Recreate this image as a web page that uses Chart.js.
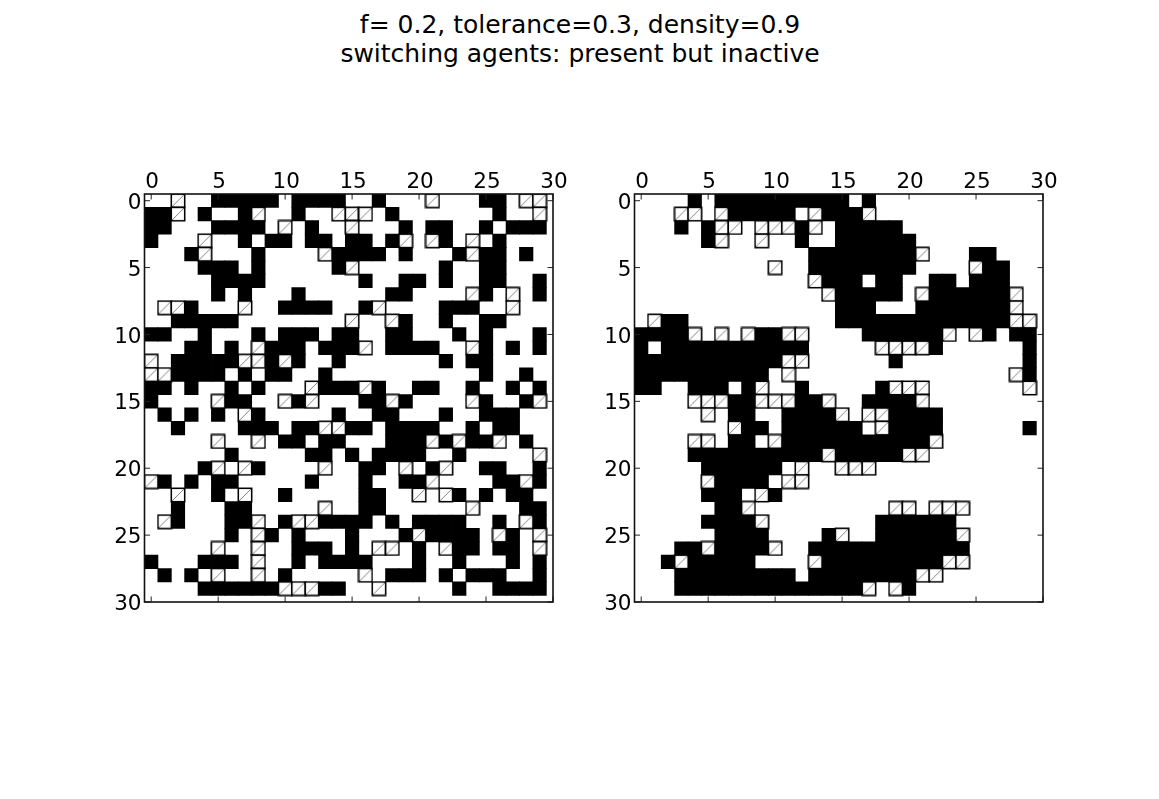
<!DOCTYPE html>
<html>
<head>
<meta charset="utf-8">
<script src="https://cdn.jsdelivr.net/npm/chart.js@4"></script>
<style>
html,body{margin:0;padding:0;background:#fff;width:1159px;height:799px;overflow:hidden}
#title{position:absolute;left:0;top:11px;width:1160px;text-align:center;font:25px/28.5px "DejaVu Sans";color:#000}
canvas{position:absolute;top:150px}
#left{left:100px}
#right{left:590px}
</style>
</head>
<body>
<div id="title">f= 0.2, tolerance=0.3, density=0.9<br>switching agents: present but inactive</div>
<canvas id="left" width="480" height="470"></canvas>
<canvas id="right" width="480" height="470"></canvas>
<script>
const tickValues = [0, 5, 10, 15, 20, 25, 30];
// '#' occupied, '/' switching agent, '.' empty
const leftGrid = [
"../..#####.####..#.../...##.//",
"##/.#..#/..#..///.#.......#../",
"##...####./.#../...#.##..#.###",
"#.../..#.##.##.##.#/./#./.#...",
"...#/...#..../####.#...#/##.#.",
"....###.#.....#/......#..##...",
".....####.......#..##.#..##..#",
".....#.#...#......##..../#./.#",
".//#.../..####..#/....###../..",
"..#####......../../#..#..##...",
"##..#...#.###.##..##...#.#...#",
"...##.#./###.###/.####../#.#.#",
"/.#####//#/#..#.......#.##....",
"//####.#.##..#...........#..#.",
"##.#..#.#.../###/#..##..#..#.#",
"#..../##../#/...##/#..../#..#/",
".#.#.#./#.....#..##...#..###..",
"..#....###.##//##.####..#.##..",
"...../../.##.##...###/#/##/.#.",
"......#.....##.#.####..#...../",
"....#/./#..../..##./.#/..##..#",
"/#.#.##.....#...#..##/....##/#",
"../..#./..#.....##../." + "/#.#.##.",
"..#...##...../..##....../...##",
"./#...##/.#//####.#.####..#./#",
"......#./#.#...#...#/####./#./",
"...../../..###.#.//.#./##.##./",
"#...###./..#.####...#..#...#.#",
".#.#./../.#...../.###.#.###..#",
"....######///##../.....#..####"
];
const rightGrid = [
"....#.##########.#............",
"...//./#####./###/............",
"...#.#//.///#/.#####..........",
".....#/../..#..######.........",
".............########/...##...",
"........../..########..../##..",
"............./###.##..##.###..",
"............../#####./######/.",
"...............###...#######/.",
"./##...........#############//",
"####/././##//....######/./#.##",
"#.###########.....////#......#",
"###########//......#.........#",
"##########./................/#",
"##..###.#/..#.....#///......./",
"....///##///##/..####/........",
"...../.##..####/.//####.......",
"......./##.######./####......#",
"....//.##./###########/.......",
"....##########/#####//........",
".....######./..///............",
"...../####.//.................",
".....###./#...................",
"......##/..........//.///.....",
".....####/........######......",
"......####....#/..######/.....",
"...##/####/..############.....",
"..#/#####..../#########//.....",
"...#########.########//.......",
"...##############/./#........."
];

function cellsOf(grid, ch) {
  const out = [];
  grid.forEach((row, r) => [...row].forEach((c, k) => { if (c === ch) out.push({x: k, y: r}); }));
  return out;
}
function hatchSprite() {
  const s = 16, c = document.createElement('canvas');
  c.width = c.height = s;
  const g = c.getContext('2d'), a = 1.3, b = s - 1.3;
  g.fillStyle = '#fff'; g.fillRect(a, a, b - a, b - a);
  g.strokeStyle = '#666'; g.lineWidth = 0.8;
  g.beginPath(); g.moveTo(a, b); g.lineTo(b, a); g.stroke();
  g.strokeStyle = '#000'; g.lineWidth = 1.55;
  g.strokeRect(a, a, b - a, b - a);
  return c;
}
const frame = {
  id: 'frame',
  afterDraw(chart) {
    const {ctx, chartArea: A, scales: {x, y}} = chart, L = 5.5;
    ctx.save();
    ctx.strokeStyle = '#222'; ctx.lineWidth = 1;
    ctx.beginPath();
    x.ticks.forEach(t => { const p = x.getPixelForValue(t.value);
      ctx.moveTo(p, A.top); ctx.lineTo(p, A.top + L);
      ctx.moveTo(p, A.bottom); ctx.lineTo(p, A.bottom - L); });
    y.ticks.forEach(t => { const p = y.getPixelForValue(t.value);
      ctx.moveTo(A.left, p); ctx.lineTo(A.left + L, p);
      ctx.moveTo(A.right, p); ctx.lineTo(A.right - L, p); });
    ctx.stroke();
    ctx.strokeStyle = '#111'; ctx.lineWidth = 1.6;
    ctx.strokeRect(A.left, A.top, A.right - A.left, A.bottom - A.top);
    ctx.restore();
  }
};
function axis(fit, offset, padding) {
  return {
    type: 'linear', min: -0.5, max: 30,
    grid: {display: false, drawTicks: false, tickLength: 0}, border: {display: false},
    afterBuildTicks: s => { s.ticks = tickValues.map(v => ({value: v})); },
    afterFit: s => { fit(s); s.paddingLeft = s.paddingRight = s.paddingTop = s.paddingBottom = 0; },
    ticks: {color: '#000', font: {family: '"DejaVu Sans"', size: 21.5}, padding, labelOffset: offset,
      autoSkip: false, maxRotation: 0, callback: v => String(v)}
  };
}
function draw(id, grid, padLeft, padRight) {
  const sprite = hatchSprite();
  new Chart(document.getElementById(id), {
    type: 'scatter',
    data: {datasets: [
      {label: 'switching', data: cellsOf(grid, '/'), pointStyle: sprite, pointRadius: 8, order: 1},
      {label: 'occupied', data: cellsOf(grid, '#'), pointStyle: 'rect',
       backgroundColor: '#000', borderWidth: 0, order: 2,
       pointRadius: c => (Math.abs(c.chart.scales.x.getPixelForValue(1) - c.chart.scales.x.getPixelForValue(0)) + 0.8) / Math.SQRT2}
    ]},
    options: {
      responsive: false, animation: false, events: [],
      layout: {padding: {left: padLeft, right: padRight, top: 0, bottom: 18}},
      plugins: {legend: {display: false}, tooltip: {enabled: false}, title: {display: false}},
      scales: {
        x: Object.assign(axis(s => { s.height = 44; }, 1, -1), {position: 'top'}),
        y: Object.assign(axis(s => { s.width = 40; }, 2.5, 3), {position: 'left', reverse: true})
      }
    },
    plugins: [frame]
  });
}
draw('left', leftGrid, 4.5, 27);
draw('right', rightGrid, 4.5, 27);
</script>
</body>
</html>
